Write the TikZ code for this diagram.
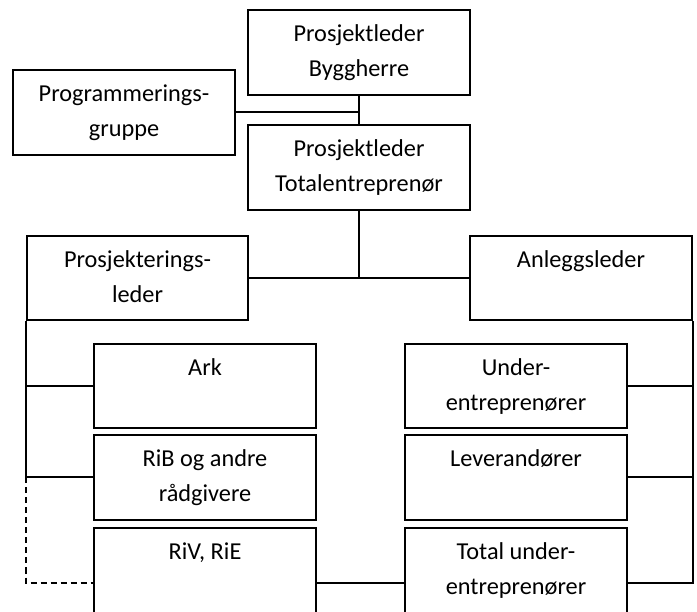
\documentclass[tikz,border=0pt]{standalone}
\usepackage{fontspec}
\setmainfont{Carlito}
\begin{document}
\begin{tikzpicture}[x=1pt,y=-1pt,
  box/.style={draw, line width=2pt, rectangle, minimum width=222pt, minimum height=85pt, inner sep=0pt},
  tbox/.style={draw, line width=2pt, rectangle, minimum width=222pt, minimum height=110pt, inner sep=0pt},
  txt/.style={anchor=north, align=center, inner sep=0pt, font=\fontsize{24.3}{35}\selectfont},
  conn/.style={line width=2pt},
  dconn/.style={line width=1.6pt, dash pattern=on 6pt off 4pt}]
\useasboundingbox (0,0) rectangle (697,612);
\clip (0,0) rectangle (697,612);
% boxes
\node[box] (bh) at (359,52.5) {};
\node[box] (pg) at (124,112.5) {};
\node[box] (te) at (359,167.5) {};
\node[box, minimum width=221pt, minimum height=84pt] (pl) at (137.5,278) {};
\node[box, minimum height=84pt] (al) at (581,278) {};
\node[box, minimum height=84pt] (ark) at (205,386) {};
\node[box, minimum height=84pt] (ue) at (516,386) {};
\node[box] (rib) at (205,477.5) {};
\node[box] (lev) at (516,477.5) {};
\node[tbox] (riv) at (205,583) {};
\node[tbox] (tue) at (516,583) {};
% texts
\node[txt] at ([yshift=-8pt]bh.north) {\strut Prosjektleder\\Byggherre};
\node[txt] at ([yshift=-8pt]pg.north) {\strut Programmerings-\\gruppe};
\node[txt] at ([yshift=-8pt]te.north) {\strut Prosjektleder\\Totalentreprenør};
\node[txt] at ([yshift=-8pt]pl.north) {\strut Prosjekterings-\\leder};
\node[txt] at ([yshift=-8pt]al.north) {\strut Anleggsleder};
\node[txt] at ([yshift=-8pt]ark.north) {\strut Ark};
\node[txt] at ([yshift=-8pt]ue.north) {\strut Under-\\entreprenører};
\node[txt] at ([yshift=-8pt]rib.north) {\strut RiB og andre\\rådgivere};
\node[txt] at ([yshift=-8pt]lev.north) {\strut Leverandører};
\node[txt] at ([yshift=-8pt]riv.north) {\strut RiV, RiE};
\node[txt] at ([yshift=-8pt]tue.north) {\strut Total under-\\entreprenører};
% connectors
\coordinate (j1) at (bh.south |- pg.east);
\draw[conn] (bh.south) -- (te.north);
\draw[conn] (pg.east) -- (j1);
\coordinate (j2) at (te.south |- pl.east);
\draw[conn] (te.south) -- (j2);
\draw[conn] (pl.east) -- (al.west);
\coordinate (lx) at (pl.south west);
\coordinate (l1) at (lx |- ark.west);
\coordinate (l2) at (lx |- rib.west);
\coordinate (l3) at (lx |- riv.west);
\draw[conn] (lx) -- (l2);
\draw[conn] (l1) -- (ark.west);
\draw[conn] (l2) -- (rib.west);
\draw[dconn] (l2) -- (l3) -- (riv.west);
\coordinate (rx) at (al.south east);
\coordinate (r1) at (rx |- ue.east);
\coordinate (r2) at (rx |- lev.east);
\coordinate (r3) at (rx |- tue.east);
\draw[conn] (rx) -- (r3) -- (tue.east);
\draw[conn] (r1) -- (ue.east);
\draw[conn] (r2) -- (lev.east);
\draw[conn] (riv.east) -- (tue.west);
\end{tikzpicture}
\end{document}
